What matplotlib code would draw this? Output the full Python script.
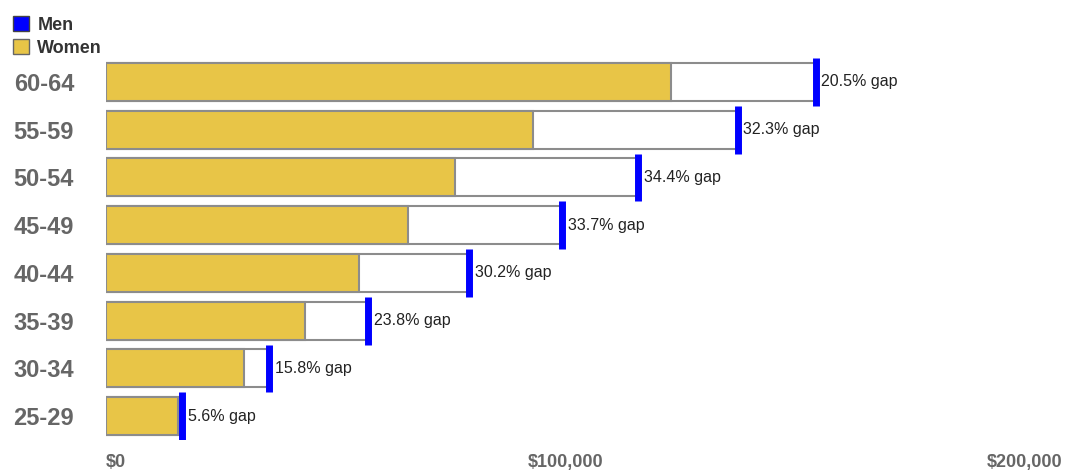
import numpy as np
import matplotlib.pyplot as plt
from matplotlib.patches import Patch

plt.rcParams['font.family'] = ['Liberation Sans', 'DejaVu Sans']

ages = ['25-29', '30-34', '35-39', '40-44', '45-49', '50-54', '55-59', '60-64']
men = [16600, 35500, 57100, 79100, 99300, 115900, 137500, 154500]
women = [15700, 30100, 43400, 55100, 65800, 76000, 93000, 122900]
gaps = ['5.6%', '15.8%', '23.8%', '30.2%', '33.7%', '34.4%', '32.3%', '20.5%']
xticks = [0, 100000, 200000]
xlabels = ['$0', '$100,000', '$200,000']

yellow = '#E8C547'
blue = '#0000FF'
edge = '#8C8C8C'

fig = plt.figure(figsize=(10.66, 4.71), dpi=100)
ax = fig.add_axes([106/1066, 1-440/471, 1-106/1066, (440-58)/471])

y = np.arange(len(ages))
# men as outline bars, women filled on top
ax.barh(y, men, height=0.8, color='white', edgecolor=edge, linewidth=1.5, zorder=2)
ax.barh(y, women, height=0.8, color=yellow, edgecolor=edge, linewidth=1.5, zorder=3)
ax.vlines(men, y - 0.5, y + 0.5, color=blue, linewidth=5, zorder=4)

for i in range(len(ages)):
    ax.text(men[i] + 1200, y[i], gaps[i] + ' gap', va='center', ha='left',
            fontsize=11.5, color='#222222')

ax.set_xlim(0, 209000)
ax.set_ylim(-0.5, len(ages) - 0.5)
ax.set_xticks(xticks)
ax.set_xticklabels(xlabels, fontsize=13, fontweight='bold', color='#666666')
ax.get_xticklabels()[0].set_horizontalalignment('left')
ax.set_yticks(y)
ax.set_yticklabels(ages, fontsize=17, fontweight='bold', color='#666666')
ax.tick_params(axis='x', length=0, pad=10)
ax.tick_params(axis='y', length=0, pad=23)
for s in ax.spines.values():
    s.set_visible(False)

handles = [Patch(facecolor=blue, edgecolor='#444444', label='Men'),
           Patch(facecolor=yellow, edgecolor='#666666', label='Women')]
leg = fig.legend(handles=handles, loc='upper left', bbox_to_anchor=(-0.003, 1.0),
                 frameon=False, handlelength=0.9, handleheight=0.9,
                 handletextpad=0.45, labelspacing=0.3, borderpad=0.4,
                 prop={'size': 13, 'weight': 'bold'})
for t in leg.get_texts():
    t.set_color('#333333')

plt.savefig('out.png', dpi=100)
